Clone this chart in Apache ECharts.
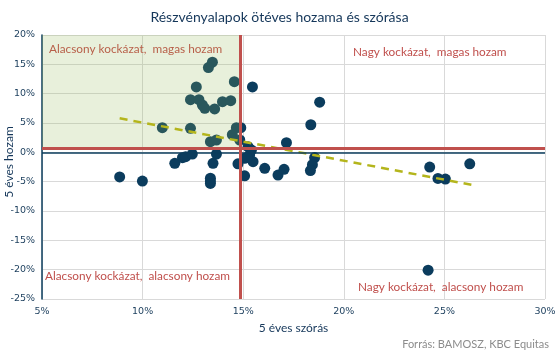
<!DOCTYPE html>
<html>
<head>
<meta charset="utf-8">
<script src="https://cdn.jsdelivr.net/npm/echarts@6/dist/echarts.min.js"></script>
<style>
html,body{margin:0;padding:0;background:#fff;}
#chart{width:559px;height:359px;}
</style>
</head>
<body>
<div id="chart"></div>
<script>
// 5 éves szórás (x, %) and 5 éves hozam (y, %)
const stdDev = [13.47,13.27,12.67,14.56,15.46,12.38,12.80,12.97,13.09,13.58,13.97,14.38,10.98,12.38,14.66,14.88,14.46,13.37,13.67,14.83,15.24,15.41,15.32,15.07,14.74,15.49,15.07,16.07,16.73,17.03,17.15,18.36,18.80,18.55,18.44,18.34,24.27,24.68,25.05,26.26,24.19,8.86,9.99,11.60,11.98,12.14,12.47,13.67,13.50,13.37,13.37,13.37,15.20];
const returns = [15.36,14.44,11.14,12.05,11.14,8.98,8.98,8.07,7.50,7.39,8.64,8.81,4.20,4.10,4.20,4.20,3.00,1.81,2.10,2.10,0.96,0.39,-0.46,-1.02,-1.95,-1.60,-4.00,-2.73,-3.87,-2.90,1.64,4.70,8.55,-0.90,-2.10,-3.10,-2.51,-4.44,-4.56,-1.95,-20.08,-4.20,-4.90,-1.88,-0.92,-0.75,-0.29,-0.29,-1.88,-4.40,-4.90,-5.30,-0.90];
const trendX = [8.86, 26.34];
const trendY = [5.80, -5.53];
const riskThreshold = 14.83;
const returnThreshold = 0.68;
const xTicks = [5,10,15,20,25,30];
const yTicks = [-25,-20,-15,-10,-5,0,5,10,15,20];
const titleText = 'Részvényalapok ötéves hozama és szórása';

const points = stdDev.map((v,i)=>[v, returns[i]]);
const trend = trendX.map((v,i)=>[v, trendY[i]]);
const navy = '#0b3c5d';
const red = '#c0504d';

const chart = echarts.init(document.getElementById('chart'), null, {renderer:'canvas'});
chart.setOption({
  animation:false,
  backgroundColor:'#fff',
  title:{
    text:titleText, left:'center', top:5,
    textStyle:{fontFamily:'Lato', fontSize:14, fontWeight:'normal', color:'#15375a'}
  },
  grid:{left:42, right:14, top:35, bottom:60, containLabel:false, outerBoundsMode:'none'},
  xAxis:{
    type:'value', min:xTicks[0], max:xTicks[xTicks.length-1], interval:5,
    name:'5 éves szórás', nameLocation:'middle', nameGap:23, nameMoveOverlap:false,
    nameTextStyle:{fontFamily:'Lato', fontSize:12, color:'#15375a'},
    axisLine:{show:false}, axisTick:{show:false},
    axisLabel:{formatter:'{value}%', fontFamily:'DejaVu Sans', fontSize:9.5, color:'#1a3d5c', margin:8},
    splitLine:{show:true, lineStyle:{color:'#d9d9d9', width:1}}
  },
  yAxis:{
    type:'value', min:yTicks[0], max:yTicks[yTicks.length-1], interval:5,
    axisLine:{show:true, onZero:false, lineStyle:{color:navy, width:1.5}}, axisTick:{show:false},
    axisLabel:{formatter:'{value}%', fontFamily:'DejaVu Sans', fontSize:9.5, color:'#1a3d5c', margin:7},
    splitLine:{show:true, lineStyle:{color:'#d9d9d9', width:1}}
  },
  series:[
    {
      type:'line', z:1, data:[], symbol:'none', silent:true,
      markLine:{symbol:'none', silent:true, label:{show:false},
        lineStyle:{color:navy, width:1.5, type:'solid'},
        data:[{yAxis:0}]}
    },
    {
      type:'scatter', z:2, data:points, symbolSize:11,
      itemStyle:{color:navy, opacity:1}
    },
    {
      type:'custom', z:3, silent:true,
      data:[[xTicks[0], yTicks[yTicks.length-1], riskThreshold, returnThreshold]],
      encode:{x:[0,2], y:[1,3]},
      renderItem:function(params, api){
        const p1 = api.coord([api.value(0), api.value(1)]);
        const p2 = api.coord([api.value(2), api.value(3)]);
        return {type:'rect', shape:{x:p1[0], y:p1[1], width:p2[0]-p1[0], height:p2[1]-p1[1]},
          style:{fill:'rgba(150,185,90,0.22)'}};
      }
    },
    {
      type:'line', z:4, data:trend, symbol:'none', silent:true,
      lineStyle:{color:'#b4b51c', width:2.5, type:[8,6]}
    },
    {
      type:'line', z:5, data:[], symbol:'none', silent:true,
      markLine:{symbol:'none', silent:true, label:{show:false},
        lineStyle:{color:red, width:3, type:'solid'},
        data:[{xAxis:riskThreshold},{yAxis:returnThreshold}]}
    }
  ],
  graphic:[
    {type:'text', x:9, y:162, rotation:Math.PI/2, z:10, style:{text:'5 éves hozam', fontFamily:'Lato', fontSize:12, fill:'#15375a', align:'center', verticalAlign:'middle'}},
    {type:'text', left:49, top:43, z:10, style:{text:'Alacsony kockázat,  magas hozam', fontFamily:'Lato', fontSize:11.8, fill:'#b8604a'}},
    {type:'text', left:353, top:46, z:10, style:{text:'Nagy kockázat,  magas hozam', fontFamily:'Lato', fontSize:11.8, fill:red}},
    {type:'text', left:45, top:270, z:10, style:{text:'Alacsony kockázat,  alacsony hozam', fontFamily:'Lato', fontSize:11.8, fill:red}},
    {type:'text', left:358, top:281, z:10, style:{text:'Nagy kockázat,  alacsony hozam', fontFamily:'Lato', fontSize:11.8, fill:red}},
    {type:'text', right:10, top:339, z:10, style:{text:'Forrás: BAMOSZ, KBC Equitas', fontFamily:'Lato', fontSize:11, fill:'#8c8c8c'}}
  ]
});
</script>
</body>
</html>
